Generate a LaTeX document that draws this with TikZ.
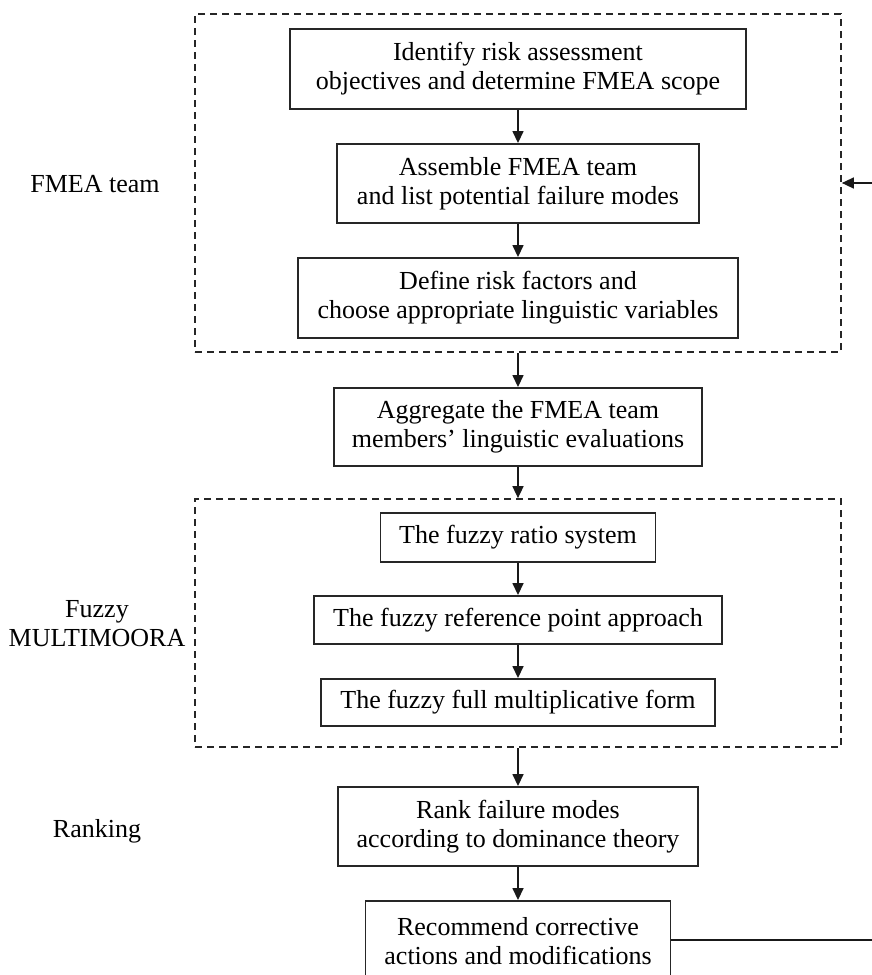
\documentclass[tikz,border=0pt]{standalone}
\usepackage{fontspec}
\setmainfont{Liberation Serif}
\usetikzlibrary{arrows.meta}

\begin{document}
\begin{tikzpicture}[x=1pt,y=-1pt,
  every node/.style={font=\fontsize{26}{29}\selectfont, inner sep=0pt, align=center},
  stepbox/.style={draw=black!85, line width=1.9pt, rectangle, fill=white},
  groupbox/.style={draw=black!85, line width=1.7pt, rectangle, dash pattern=on 7pt off 5pt},
  arr/.style={draw=black!90, line width=1.5pt, -{Triangle[length=12pt,width=11pt]}},
  plain/.style={draw=black!90, line width=1.5pt}
]
\useasboundingbox (0,0) rectangle (872,975);

% dashed groups
\node[groupbox, minimum width=646pt, minimum height=338pt] (team) at (518,183) {};
\node[groupbox, minimum width=646pt, minimum height=248pt] (moora) at (518,623) {};

% process steps
\node[stepbox, minimum width=456pt, minimum height=80pt] (b1) at (518,69)
  {Identify risk assessment\\objectives  and  determine FMEA scope};
\node[stepbox, minimum width=362pt, minimum height=79pt] (b2) at (518,183.5)
  {Assemble FMEA team\\and list potential failure modes};
\node[stepbox, minimum width=440pt, minimum height=80pt] (b3) at (518,298)
  {Define risk factors and\\choose appropriate linguistic  variables};
\node[stepbox, minimum width=368pt, minimum height=78pt] (b4) at (518,427)
  {Aggregate  the FMEA team\\members' linguistic  evaluations};
\node[stepbox, minimum width=275pt, minimum height=49pt] (b5) at (518,537.5)
  {The fuzzy ratio system};
\node[stepbox, minimum width=408pt, minimum height=48pt] (b6) at (518,620)
  {The fuzzy reference point approach};
\node[stepbox, minimum width=394pt, minimum height=47pt] (b7) at (518,702.5)
  {The fuzzy full multiplicative  form};
\node[stepbox, minimum width=360pt, minimum height=79pt] (b8) at (518,826.5)
  {Rank failure  modes\\according to dominance theory};
\node[stepbox, minimum width=305pt, minimum height=80pt] (b9) at (518,941)
  {Recommend corrective\\actions and modifications};

% group labels
\node (l1) at (95,184) {FMEA team};
\node (l2) at (97,624) {Fuzzy\\MULTIMOORA};
\node (l3) at (97,831) {Ranking};

% flow
\draw[arr] (b1.south) -- (b2.north);
\draw[arr] (b2.south) -- (b3.north);
\draw[arr] (team.south) -- (b4.north);
\draw[arr] (b4.south) -- (moora.north);
\draw[arr] (b5.south) -- (b6.north);
\draw[arr] (b6.south) -- (b7.north);
\draw[arr] (moora.south) -- (b8.north);
\draw[arr] (b8.south) -- (b9.north);

% feedback loop ends
\coordinate (fbout) at (872,940);
\coordinate (fbin) at (872,183);
\draw[plain] (b9.east |- fbout) -- (fbout);
\draw[arr] (fbin) -- (team.east |- fbin);
\end{tikzpicture}
\end{document}
